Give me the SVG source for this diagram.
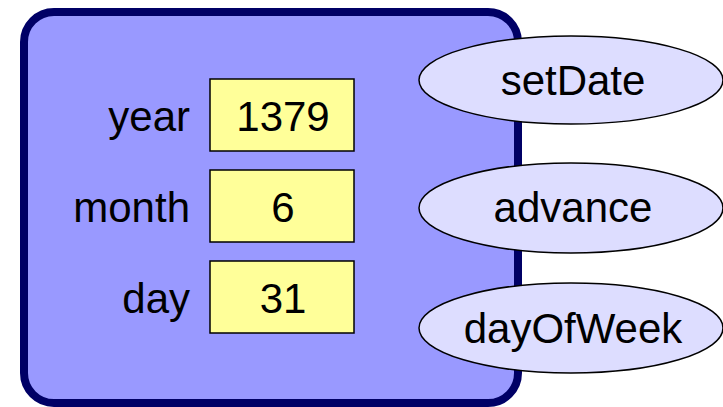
<svg xmlns="http://www.w3.org/2000/svg" width="723" height="407" viewBox="0 0 723 407">
<style>
text{font-family:"Liberation Sans",Arial,sans-serif;font-size:42px;fill:#000}
.box{fill:#FFFF99;stroke:#000;stroke-width:1.5}
.op{fill:#DDDDFF;stroke:#000;stroke-width:1.5}
.lbl{text-anchor:end}
.mid{text-anchor:middle}
</style>
<rect width="723" height="407" fill="#fff"/>
<g id="object">
<rect x="24" y="12" width="494" height="391" rx="30" ry="30" fill="#9999FF" stroke="#000066" stroke-width="8"/>
</g>
<g id="year">
<text class="lbl" x="190" y="131">year</text>
<rect class="box" x="210" y="79" width="144" height="72"/>
<text class="mid" x="283" y="131">1379</text>
</g>
<g id="month">
<text class="lbl" x="190" y="222">month</text>
<rect class="box" x="210" y="170" width="144" height="72"/>
<text class="mid" x="283" y="222">6</text>
</g>
<g id="day">
<text class="lbl" x="190" y="313">day</text>
<rect class="box" x="210" y="261" width="144" height="72"/>
<text class="mid" x="283" y="313">31</text>
</g>
<g id="setDate">
<ellipse class="op" cx="571" cy="80" rx="152" ry="44"/>
<text class="mid" x="573" y="95">setDate</text>
</g>
<g id="advance">
<ellipse class="op" cx="571" cy="208" rx="152" ry="45"/>
<text class="mid" x="573" y="222">advance</text>
</g>
<g id="dayOfWeek">
<ellipse class="op" cx="571" cy="328" rx="152" ry="45"/>
<text class="mid" x="573" y="343">dayOfWeek</text>
</g>
<g id="connectors"/>
</svg>
